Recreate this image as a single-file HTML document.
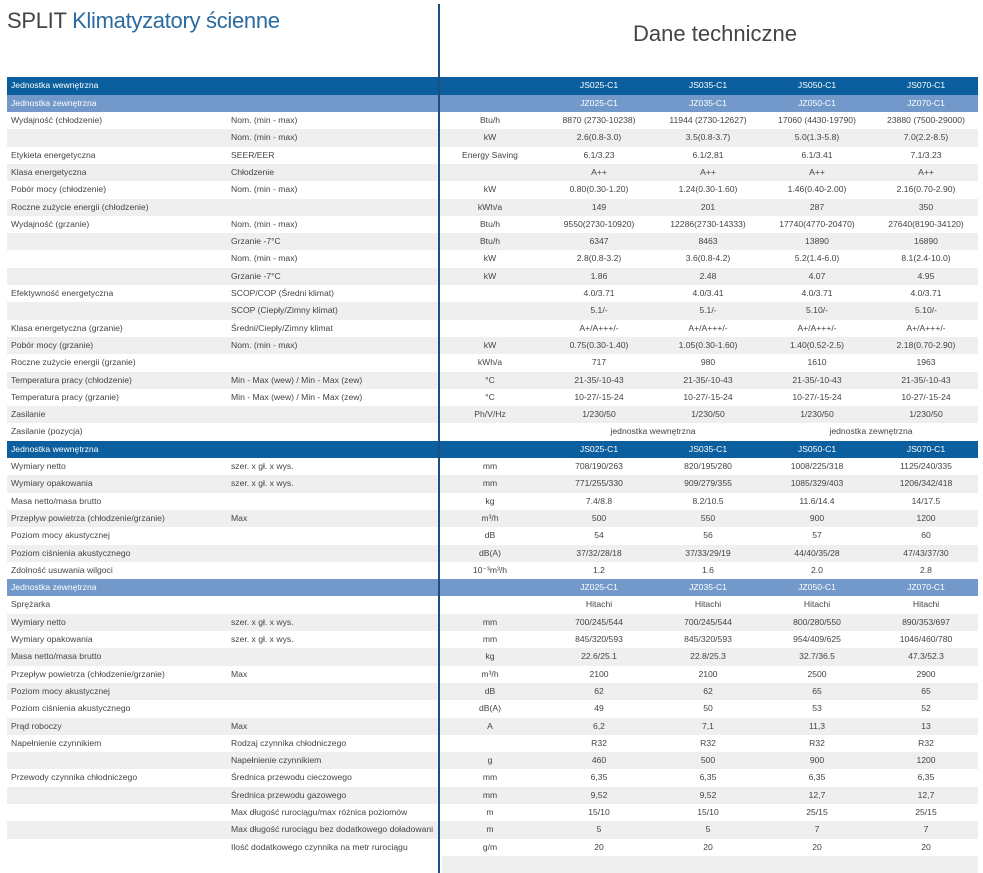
<!DOCTYPE html>
<html><head><meta charset="utf-8"><style>
body{margin:0;width:983px;height:873px;background:#fff;position:relative;overflow:hidden;font-family:"Liberation Sans",sans-serif;}
#title{position:absolute;left:7px;top:8px;font-size:22px;color:#444;letter-spacing:-0.3px;}
#title span{color:#2a6aa0;}
#sub{position:absolute;left:440px;width:550px;text-align:center;top:21px;font-size:22px;color:#444;}
#vline{position:absolute;left:438px;top:4px;width:1.5px;height:869px;background:#1e4f80;z-index:3;}
.row{position:absolute;left:7px;width:971px;height:17.3px;font-size:8.6px;color:#444;line-height:17.3px;}
.row.g{background:#efefef;}
.row.h1{background:#0b5f9e;color:#fff;}
.row.h2{background:#7299c9;color:#fff;}
.row div{position:absolute;top:0;white-space:nowrap;}
.c{text-align:center;width:120px;}
</style></head><body>
<div id="title">SPLIT <span>Klimatyzatory ścienne</span></div>
<div id="sub">Dane techniczne</div>
<div id="vline"></div>
<div id="gray-end" style="position:absolute;left:442px;top:856px;width:536px;height:17px;background:#efefef"></div>
<script>
const rows=[
["h1","Jednostka wewnętrzna","","",["JS025-C1","JS035-C1","JS050-C1","JS070-C1"]],
["h2","Jednostka zewnętrzna","","",["JZ025-C1","JZ035-C1","JZ050-C1","JZ070-C1"]],
["","Wydajność (chłodzenie)","Nom. (min - max)","Btu/h",["8870 (2730-10238)","11944 (2730-12627)","17060 (4430-19790)","23880 (7500-29000)"]],
["","","Nom. (min - max)","kW",["2.6(0.8-3.0)","3.5(0.8-3.7)","5.0(1.3-5.8)","7.0(2.2-8.5)"]],
["","Etykieta energetyczna","SEER/EER","Energy Saving",["6.1/3.23","6.1/2,81","6.1/3.41","7.1/3.23"]],
["","Klasa energetyczna","Chłodzenie","",["A++","A++","A++","A++"]],
["","Pobór mocy (chłodzenie)","Nom. (min - max)","kW",["0.80(0.30-1.20)","1.24(0.30-1.60)","1.46(0.40-2.00)","2.16(0.70-2.90)"]],
["","Roczne zużycie energii (chłodzenie)","","kWh/a",["149","201","287","350"]],
["","Wydajność (grzanie)","Nom. (min - max)","Btu/h",["9550(2730-10920)","12286(2730-14333)","17740(4770-20470)","27640(8190-34120)"]],
["","","Grzanie -7°C","Btu/h",["6347","8463","13890","16890"]],
["","","Nom. (min - max)","kW",["2.8(0.8-3.2)","3.6(0.8-4.2)","5.2(1.4-6.0)","8.1(2.4-10.0)"]],
["","","Grzanie -7°C","kW",["1.86","2.48","4.07","4.95"]],
["","Efektywność energetyczna","SCOP/COP (Średni klimat)","",["4.0/3.71","4.0/3.41","4.0/3.71","4.0/3.71"]],
["","","SCOP (Ciepły/Zimny klimat)","",["5.1/-","5.1/-","5.10/-","5.10/-"]],
["","Klasa energetyczna (grzanie)","Średni/Ciepły/Zimny klimat","",["A+/A+++/-","A+/A+++/-","A+/A+++/-","A+/A+++/-"]],
["","Pobór mocy (grzanie)","Nom. (min - max)","kW",["0.75(0.30-1.40)","1.05(0.30-1.60)","1.40(0.52-2.5)","2.18(0.70-2.90)"]],
["","Roczne zużycie energii (grzanie)","","kWh/a",["717","980","1610","1963"]],
["","Temperatura pracy (chłodzenie)","Min - Max (wew) / Min - Max (zew)","°C",["21-35/-10-43","21-35/-10-43","21-35/-10-43","21-35/-10-43"]],
["","Temperatura pracy (grzanie)","Min - Max (wew) / Min - Max (zew)","°C",["10-27/-15-24","10-27/-15-24","10-27/-15-24","10-27/-15-24"]],
["","Zasilanie","","Ph/V/Hz",["1/230/50","1/230/50","1/230/50","1/230/50"]],
["","Zasilanie (pozycja)","","",["SPAN1","SPAN2"]],
["h1","Jednostka wewnętrzna","","",["JS025-C1","JS035-C1","JS050-C1","JS070-C1"]],
["","Wymiary netto","szer. x gł. x wys.","mm",["708/190/263","820/195/280","1008/225/318","1125/240/335"]],
["","Wymiary opakowania","szer. x gł. x wys.","mm",["771/255/330","909/279/355","1085/329/403","1206/342/418"]],
["","Masa netto/masa brutto","","kg",["7.4/8.8","8.2/10.5","11.6/14.4","14/17.5"]],
["","Przepływ powietrza (chłodzenie/grzanie)","Max","m³/h",["500","550","900","1200"]],
["","Poziom mocy akustycznej","","dB",["54","56","57","60"]],
["","Poziom ciśnienia akustycznego","","dB(A)",["37/32/28/18","37/33/29/19","44/40/35/28","47/43/37/30"]],
["","Zdolność usuwania wilgoci","","10⁻³m³/h",["1.2","1.6","2.0","2.8"]],
["h2","Jednostka zewnętrzna","","",["JZ025-C1","JZ035-C1","JZ050-C1","JZ070-C1"]],
["","Sprężarka","","",["Hitachi","Hitachi","Hitachi","Hitachi"]],
["","Wymiary netto","szer. x gł. x wys.","mm",["700/245/544","700/245/544","800/280/550","890/353/697"]],
["","Wymiary opakowania","szer. x gł. x wys.","mm",["845/320/593","845/320/593","954/409/625","1046/460/780"]],
["","Masa netto/masa brutto","","kg",["22.6/25.1","22.8/25.3","32.7/36.5","47.3/52.3"]],
["","Przepływ powietrza (chłodzenie/grzanie)","Max","m³/h",["2100","2100","2500","2900"]],
["","Poziom mocy akustycznej","","dB",["62","62","65","65"]],
["","Poziom ciśnienia akustycznego","","dB(A)",["49","50","53","52"]],
["","Prąd roboczy","Max","A",["6,2","7,1","11,3","13"]],
["","Napełnienie czynnikiem","Rodzaj czynnika chłodniczego","",["R32","R32","R32","R32"]],
["","","Napełnienie czynnikiem","g",["460","500","900","1200"]],
["","Przewody czynnika chłodniczego","Średnica przewodu cieczowego","mm",["6,35","6,35","6,35","6,35"]],
["","","Średnica przewodu gazowego","mm",["9,52","9,52","12,7","12,7"]],
["","","Max długość rurociągu/max różnica poziomów","m",["15/10","15/10","25/15","25/15"]],
["","","Max długość rurociągu bez dodatkowego doładowani","m",["5","5","7","7"]],
["","","Ilość dodatkowego czynnika na metr rurociągu","g/m",["20","20","20","20"]]
];
const colX=[592,701,810,919];
rows.forEach((r,i)=>{
 const d=document.createElement('div');
 
 
 d.className='row '+(r[0]||(i%2===1?'g':''));
 d.style.top=(77.4+i*17.3)+'px';
 let h='<div style="left:4px">'+r[1]+'</div>';
 h+='<div style="left:224px">'+r[2]+'</div>';
 h+='<div class="c" style="left:423px">'+r[3]+'</div>';
 if(r[4][0]==='SPAN1'){
  h+='<div class="c" style="left:586px">jednostka wewnętrzna</div>';
  h+='<div class="c" style="left:804px">jednostka zewnętrzna</div>';
 } else r[4].forEach((v,j)=>{h+='<div class="c" style="left:'+(colX[j]-60)+'px">'+v+'</div>';});
 d.innerHTML=h;
 document.body.appendChild(d);
});
</script>
</body></html>
